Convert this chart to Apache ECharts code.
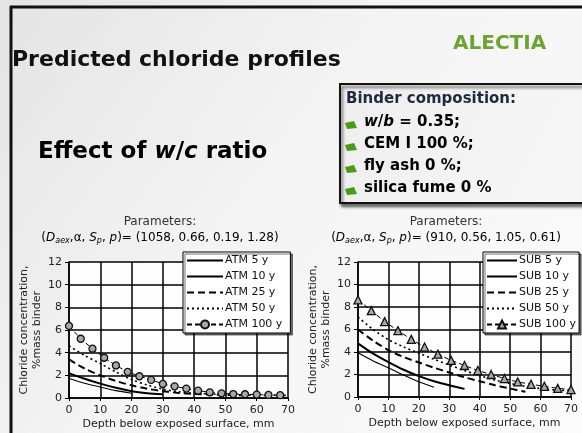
<!DOCTYPE html>
<html>
<head>
<meta charset="utf-8">
<script src="https://cdn.jsdelivr.net/npm/echarts@6/dist/echarts.min.js"></script>
<style>
html,body{margin:0;padding:0;width:582px;height:433px;overflow:hidden;}
#c{width:582px;height:433px;}
</style>
</head>
<body>
<div id="c"></div>
<script>
// ---- data ----
const depth5 = [0, 5, 10, 15, 20, 25, 30, 35, 40, 45, 50, 55, 60, 65, 70];
const atmNames = ['ATM 5 y', 'ATM 10 y', 'ATM 25 y', 'ATM 50 y', 'ATM 100 y'];
const atm5 = [1.72, 1.3, 0.97, 0.65, 0.42];
const atm10 = [2.2, 1.7, 1.27, 0.9, 0.6, 0.42, 0.32];
const atm25 = [3.4, 2.6, 2.0, 1.5, 1.12, 0.82, 0.6, 0.45, 0.35, 0.3, 0.27, 0.25];
const atm50 = [4.6, 3.75, 3.04, 2.3, 1.63, 1.15, 0.78, 0.55, 0.42, 0.35, 0.3, 0.27, 0.25, 0.24, 0.23];
const atmDepth100 = [0, 3.75, 7.5, 11.25, 15, 18.75, 22.5, 26.25, 30, 33.75, 37.5, 41.25, 45, 48.75, 52.5, 56.25, 60, 63.75, 67.5];
const atm100 = [6.36, 5.23, 4.35, 3.55, 2.87, 2.31, 1.92, 1.6, 1.24, 1.03, 0.83, 0.65, 0.5, 0.41, 0.35, 0.33, 0.3, 0.27, 0.25];

const subNames = ['SUB 5 y', 'SUB 10 y', 'SUB 25 y', 'SUB 50 y', 'SUB 100 y'];
const sub5 = [3.93, 3.2, 2.6, 1.95, 1.35, 0.87];
const sub10 = [4.77, 3.85, 3.1, 2.42, 1.85, 1.4, 1.04, 0.72];
const sub25 = [6.0, 5.0, 4.17, 3.55, 3.07, 2.6, 2.18, 1.75, 1.4, 1.05, 0.75, 0.47];
const sub50 = [7.1, 6.0, 5.1, 4.45, 3.9, 3.35, 2.85, 2.35, 1.9, 1.5, 1.2, 0.95, 0.75, 0.62, 0.55];
const subDepth100 = [0, 4.375, 8.75, 13.125, 17.5, 21.875, 26.25, 30.625, 35, 39.375, 43.75, 48.125, 52.5, 56.875, 61.25, 65.625, 70];
const sub100 = [8.64, 7.68, 6.7, 5.9, 5.12, 4.44, 3.81, 3.25, 2.8, 2.35, 2.0, 1.64, 1.34, 1.13, 0.95, 0.77, 0.66];

const xName = 'Depth below exposed surface, mm';
const yName = 'Chloride concentration,\n%mass binder';

// ---- helpers ----
const zip = (xs, ys) => ys.map((v, i) => [xs[i], v]);
const FONT = '"DejaVu Sans", Verdana, sans-serif';

function lineSeries(name, xs, ys, idx, style, marker) {
  const s = {
    name: name, type: 'line', xAxisIndex: idx, yAxisIndex: idx,
    data: zip(xs, ys), smooth: 0.3, animation: false,
    lineStyle: Object.assign({ color: '#000' }, style),
    itemStyle: { color: '#000' },
    symbol: 'none', z: 3
  };
  if (marker) {
    s.symbol = marker.symbol;
    s.symbolSize = marker.size;
    s.showSymbol = true;
    s.itemStyle = { color: marker.fill, borderColor: '#111', borderWidth: 1.3 };
    s.smooth = false;
  }
  return s;
}

const styles = [
  { width: 1.1, type: 'solid' },
  { width: 2, type: 'solid' },
  { width: 2, type: [7, 4] },
  { width: 1.6, type: [2, 3] },
  { width: 1, type: [5, 3] }
];

function xAxisCfg(idx) {
  return {
    type: 'value', gridIndex: idx, min: 0, max: 70, interval: 10,
    name: xName, nameLocation: 'middle', nameGap: 21,
    nameTextStyle: { fontFamily: FONT, fontSize: 11, color: '#222' },
    axisLine: { show: true, onZero: false, lineStyle: { color: '#000', width: 1.5 } },
    axisTick: { show: true, length: 3, lineStyle: { color: '#000' } },
    axisLabel: { fontFamily: FONT, fontSize: 11, color: '#222', margin: 7 },
    splitLine: { show: true, lineStyle: { color: '#000', width: 1.5 } }
  };
}
function yAxisCfg(idx) {
  return {
    type: 'value', gridIndex: idx, min: 0, max: 12, interval: 2,
    name: yName, nameLocation: 'middle', nameGap: 24, nameRotate: 90,
    nameTextStyle: { fontFamily: FONT, fontSize: 11, color: '#222', lineHeight: 13 },
    axisLine: { show: true, lineStyle: { color: '#000', width: 1.5 } },
    axisTick: { show: true, length: 4, lineStyle: { color: '#000' } },
    axisLabel: { fontFamily: FONT, fontSize: 11, color: '#222', margin: 7 },
    splitLine: { show: true, lineStyle: { color: '#000', width: 1.5 } }
  };
}
function legendCfg(names, left, iw, padR) {
  return {
    orient: 'vertical', left: left, top: 252,
    data: names.map((n, k) => k < 4 ? { name: n, itemStyle: { opacity: 0 } } : { name: n }),
    backgroundColor: '#fff', borderColor: '#000', borderWidth: 1,
    padding: [3, padR, 3, 3], itemGap: 5, itemWidth: iw, itemHeight: 10,
    textStyle: { fontFamily: FONT, fontSize: 11, color: '#111', padding: [0, 0, 0, -3] },
    shadowColor: 'rgba(0,0,0,0.55)', shadowBlur: 0, shadowOffsetX: 2, shadowOffsetY: 2,
    selectedMode: false
  };
}

const paramRich = {
  n: { fontFamily: FONT, fontSize: 12, color: '#333' },
  i: { fontFamily: FONT, fontSize: 12, color: '#333', fontStyle: 'italic' },
  s: { fontFamily: FONT, fontSize: 8, color: '#333', fontStyle: 'italic', padding: [6, 0, 0, 0] }
};
function paramText(cx, vals) {
  return [
    { type: 'text', x: cx, y: 216, style: { text: 'Parameters:', font: '12px ' + FONT, fill: '#333', align: 'center' } },
    { type: 'text', x: cx, y: 231, style: {
      text: '{n|(}{i|D}{s|aex}{n|,α, }{i|S}{s|p}{n|, }{i|p}{n|)= (' + vals + ')}',
      rich: paramRich, align: 'center', verticalAlign: 'top' } }
  ];
}

const chart = echarts.init(document.getElementById('c'), null, { renderer: 'canvas' });

const bullets = ['{i|w}{b|/}{i|b}{b| = 0.35;}', '{b|CEM I 100 %;}', '{b|fly ash 0 %;}', '{b|silica fume 0 %}'];
const bulletY = [115, 137, 159, 181];
const boxRich = {
  b: { fontFamily: FONT, fontSize: 15, fontWeight: 'bold', color: '#1e2a40' },
  i: { fontFamily: FONT, fontSize: 15, fontWeight: 'bold', fontStyle: 'italic', color: '#1e2a40' }
};

const graphics = [
  { type: 'line', shape: { x1: 10, y1: 7, x2: 582, y2: 7 }, style: { stroke: '#111', lineWidth: 3 } },
  { type: 'line', shape: { x1: 11, y1: 6, x2: 11, y2: 433 }, style: { stroke: '#111', lineWidth: 3 } },
  { type: 'text', x: 12, y: 49, style: { text: 'Predicted chloride profiles', font: 'bold 22px ' + FONT, fill: '#111' } },
  { type: 'text', x: 453, y: 34, style: { text: 'ALECTIA', font: 'bold 20px ' + FONT, fill: '#6ea236' } },
  { type: 'text', x: 38, y: 141, style: {
    text: '{b|Effect of }{i|w}{b|/}{i|c}{b| ratio}',
    rich: {
      b: { fontFamily: FONT, fontSize: 23, fontWeight: 'bold', color: '#5cb812' },
      i: { fontFamily: FONT, fontSize: 23, fontWeight: 'bold', fontStyle: 'italic', color: '#5cb812' }
    } } },
  { type: 'rect', shape: { x: 340, y: 84, width: 250, height: 119 },
    style: { fill: { type: 'linear', x: 0, y: 0, x2: 1, y2: 1, colorStops: [{ offset: 0, color: '#eeeeee' }, { offset: 1, color: '#f8f8f8' }] },
      stroke: '#111', lineWidth: 2, shadowColor: 'rgba(0,0,0,0.55)', shadowBlur: 3, shadowOffsetX: 2, shadowOffsetY: 3 } },
  { type: 'text', x: 346, y: 92, style: { text: 'Binder composition:', font: 'bold 15px ' + FONT, fill: '#1e2a40' } }
];
bullets.forEach((t, k) => {
  const y = bulletY[k];
  graphics.push({ type: 'polygon', shape: { points: [[345, y + 8], [354, y + 6], [357, y + 13], [347, y + 14]] }, style: { fill: '#4a9a1c' }, z: 10 });
  graphics.push({ type: 'text', x: 364, y: y, style: { text: t, rich: boxRich }, z: 10 });
});
paramText(160, '1058, 0.66, 0.19, 1.28').forEach(g => graphics.push(g));
paramText(446, '910, 0.56, 1.05, 0.61').forEach(g => graphics.push(g));

const atmSeries = [atm5, atm10, atm25, atm50];
const subSeries = [sub5, sub10, sub25, sub50];
const series = [];
atmSeries.forEach((d, k) => series.push(lineSeries(atmNames[k], depth5, d, 0, styles[k])));
series.push(lineSeries(atmNames[4], atmDepth100, atm100, 0, styles[4], { symbol: 'circle', size: 7, fill: '#a8a8a8' }));
subSeries.forEach((d, k) => series.push(lineSeries(subNames[k], depth5, d, 1, styles[k])));
series.push(lineSeries(subNames[4], subDepth100, sub100, 1, styles[4], { symbol: 'triangle', size: 8, fill: '#a8a8a8' }));

chart.setOption({
  animation: false,
  backgroundColor: { type: 'linear', x: 0, y: 0, x2: 1, y2: 1,
    colorStops: [{ offset: 0, color: '#e4e4e4' }, { offset: 0.45, color: '#f4f4f4' }, { offset: 1, color: '#fbfbfb' }] },
  grid: [
    { left: 69, right: 294, top: 262, bottom: 35, show: true, backgroundColor: '#fdfdfd', borderWidth: 0 },
    { left: 358, right: 11, top: 262, bottom: 36, show: true, backgroundColor: '#fdfdfd', borderWidth: 0 }
  ],
  xAxis: [xAxisCfg(0), xAxisCfg(1)],
  yAxis: [yAxisCfg(0), yAxisCfg(1)],
  legend: [legendCfg(atmNames, 183, 36, 8), legendCfg(subNames, 483, 30, 3)],
  graphic: graphics,
  series: series
});
</script>
</body>
</html>
